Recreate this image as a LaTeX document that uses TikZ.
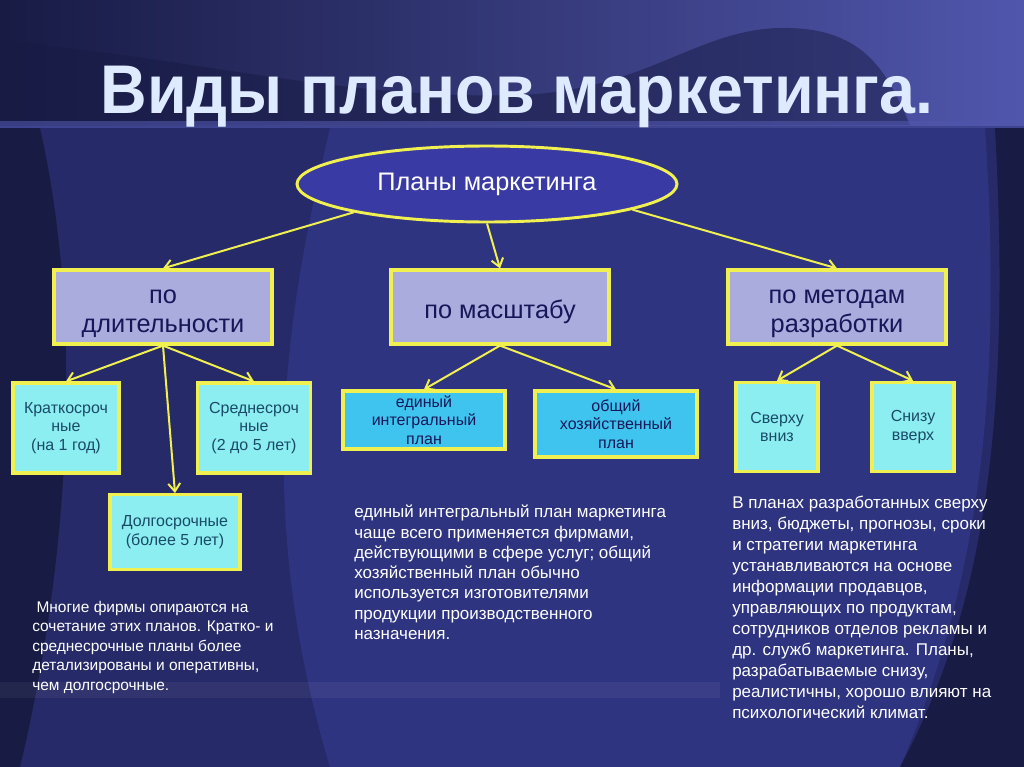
\documentclass[tikz,border=0pt]{standalone}
\usepackage{fontspec}
\setmainfont{Liberation Sans}
\usepackage{xcolor}
\usepackage{graphicx}
\usepackage{tikz}
\usetikzlibrary{arrows.meta,positioning,shapes.geometric}

\definecolor{bgbase}{RGB}{38,42,104}
\definecolor{bgdark}{RGB}{24,27,68}
\definecolor{bglight}{RGB}{47,52,128}
\definecolor{bgtop}{RGB}{80,86,172}
\definecolor{lineyel}{RGB}{240,240,80}
\definecolor{ovalfill}{RGB}{58,58,165}
\definecolor{catfill}{RGB}{170,172,222}
\definecolor{cattext}{RGB}{22,22,88}
\definecolor{leaffill}{RGB}{140,238,240}
\definecolor{skyfill}{RGB}{62,196,238}
\definecolor{leaftext}{RGB}{25,75,105}
\definecolor{titlecol}{RGB}{222,234,255}

\newcommand{\lowline}{\rule{0pt}{20.5pt}}

\begin{document}
\begin{tikzpicture}[
    x=0.75pt, y=-0.75pt,
    heading/.style={font=\fontsize{47}{50}\selectfont\bfseries, text=titlecol, inner sep=0pt},
    oval/.style={draw=lineyel, line width=2.2pt, ellipse, fill=ovalfill, text=white,
      minimum width=285pt, minimum height=57pt, font=\fontsize{19}{22}\selectfont},
    catbox/.style={draw=lineyel, line width=2.4pt, fill=catfill, text=cattext, align=center,
      minimum width=163.5pt, minimum height=55.5pt, font=\fontsize{19}{22}\selectfont},
    leaf/.style={draw=lineyel, line width=2.4pt, fill=leaffill, text=leaftext, align=center,
      inner sep=1pt, font=\fontsize{12}{14}\selectfont},
    skyleaf/.style={leaf, fill=skyfill, text=cattext},
    note/.style={anchor=north west, align=left, inner sep=0pt, text=white},
    link/.style={draw=lineyel, line width=1.5pt, -{Straight Barb[length=6pt,width=9pt]}}
  ]
    % background
    \useasboundingbox (0,0) rectangle (1024,767);
    \fill[bgbase] (0,0) rectangle (1024,767);
    \shade[left color=bgdark, right color=bgtop] (0,0) rectangle (1024,125);
    \fill[bgdark, opacity=0.5] (0,40) .. controls (200,60) and (350,100) .. (520,95)
      .. controls (650,90) and (700,25) .. (790,28) .. controls (870,30) and (890,80) .. (910,125)
      -- (0,125) -- cycle;
    \fill[bglight] (330,128) .. controls (290,300) and (250,500) .. (330,767) -- (900,767)
      .. controls (990,560) and (1000,350) .. (985,128) -- cycle;
    \fill[bgdark] (0,128) -- (40,128) .. controls (90,350) and (60,600) .. (20,767) -- (0,767) -- cycle;
    \fill[bgdark] (1024,128) -- (995,128) .. controls (1010,400) and (990,600) .. (900,767)
      -- (1024,767) -- cycle;
    \fill[bgtop, opacity=0.6] (0,121) rectangle (1024,128);
    \fill[white, opacity=0.05] (0,682) rectangle (720,698);

    % title
    \node[heading] (title) at (517,97) {\scalebox{1.03}[1.1]{Виды планов маркетинга.}};

    % tree
    \node[oval] (plan) at (487,184) {Планы маркетинга};
    \node[catbox] (dur) at (163,307) {\lowline по\\длительности};
    \node[catbox] (scale) at (500,307) {\lowline по масштабу};
    \node[catbox] (meth) at (837,307) {\lowline по методам\\разработки};

    \node[leaf, minimum width=79.5pt, minimum height=67.5pt] (short) at (66,428) {Краткосроч\\ные\\(на 1 год)};
    \node[leaf, minimum width=85pt, minimum height=67.5pt] (mid) at (254,428) {Среднесроч\\ные\\(2 до 5 лет)};
    \node[leaf, minimum width=97.5pt, minimum height=56pt] (long) at (175,532) {Долгосрочные\\(более 5 лет)};
    \node[skyleaf, minimum width=121.5pt, minimum height=43.5pt] (single) at (424,420) {единый\\интегральный\\план};
    \node[skyleaf, minimum width=121.5pt, minimum height=49.5pt] (general) at (616,424) {общий\\хозяйственный\\план};
    \node[leaf, minimum width=61.5pt, minimum height=67pt] (topdown) at (777,427) {Сверху\\вниз};
    \node[leaf, minimum width=61.5pt, minimum height=67pt] (bottomup) at (913,427) {Снизу\\вверх};

    \draw[link] (plan.192) -- (dur.north);
    \draw[link] (plan.south) -- (scale.north);
    \draw[link] (plan.350) -- (meth.north);
    \draw[link] (dur.south) -- (short.north);
    \draw[link] (dur.south) -- (long.north);
    \draw[link] (dur.south) -- (mid.north);
    \draw[link] (scale.south) -- (single.north);
    \draw[link] (scale.south) -- (general.north);
    \draw[link] (meth.south) -- (topdown.north);
    \draw[link] (meth.south) -- (bottomup.north);

    % notes
    \node[note, font=\fontsize{11.6}{14.6}\selectfont] (noteleft) at (32,601)
      {\ Многие фирмы опираются на\\сочетание этих планов. Кратко- и\\среднесрочные планы более\\детализированы и оперативны,\\чем долгосрочные.};
    \node[note, font=\fontsize{12.75}{15.2}\selectfont] (notemid) at (354,505)
      {единый интегральный план маркетинга\\чаще всего применяется фирмами,\\действующими в сфере услуг; общий\\хозяйственный план обычно\\используется изготовителями\\продукции производственного\\назначения.};
    \node[note, font=\fontsize{12.75}{15.7}\selectfont] (noteright) at (732,496)
      {В планах разработанных сверху\\вниз, бюджеты, прогнозы, сроки\\и стратегии маркетинга\\устанавливаются на основе\\информации продавцов,\\управляющих по продуктам,\\сотрудников отделов рекламы и\\др. служб маркетинга. Планы,\\разрабатываемые снизу,\\реалистичны, хорошо влияют на\\психологический климат.};
\end{tikzpicture}
\end{document}
